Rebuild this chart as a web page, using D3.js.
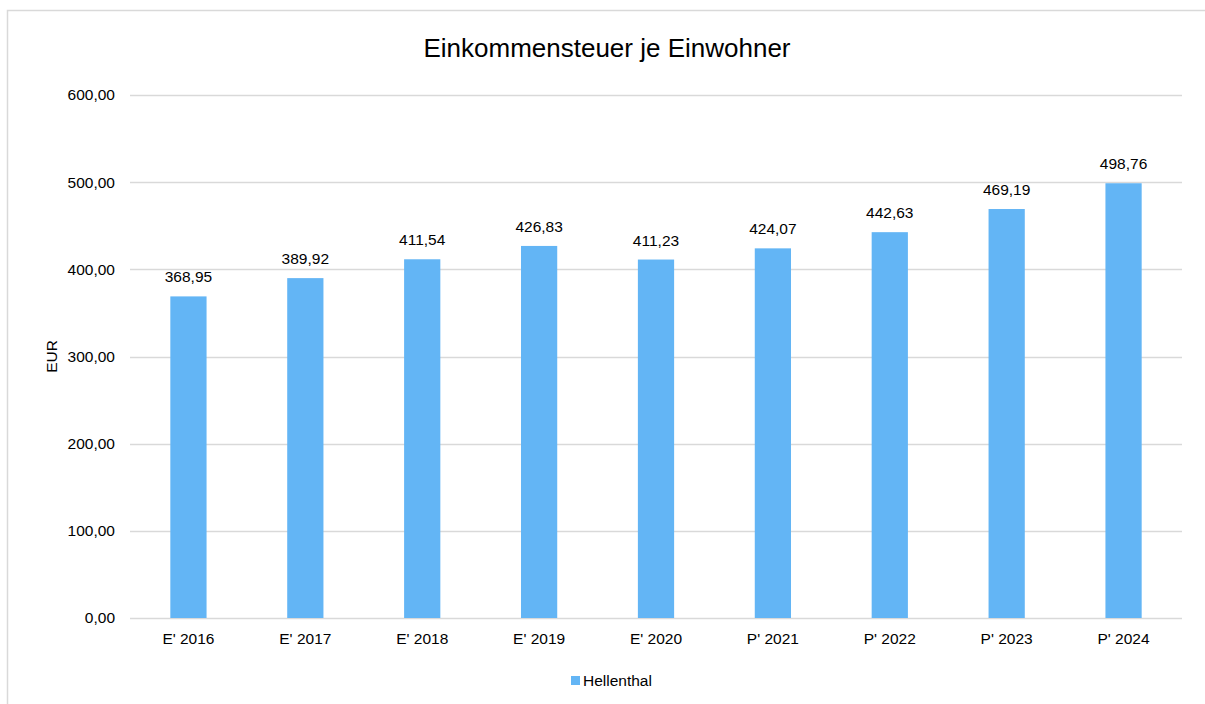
<!DOCTYPE html>
<html>
<head>
<meta charset="utf-8">
<script src="https://cdn.jsdelivr.net/npm/d3@7"></script>
<style>
  body { margin: 0; background: #fff; }
  text { font-family: "Liberation Sans", Arial, sans-serif; fill: #000; }
</style>
</head>
<body>
<div id="chart"></div>
<script>
// data
var categories = ["E' 2016", "E' 2017", "E' 2018", "E' 2019", "E' 2020", "P' 2021", "P' 2022", "P' 2023", "P' 2024"];
var values = [368.95, 389.92, 411.54, 426.83, 411.23, 424.07, 442.63, 469.19, 498.76];
var yTicks = [0, 100, 200, 300, 400, 500, 600];
var seriesName = "Hellenthal";

var w = 1205, h = 704;
var margin = {left: 130, right: 23, top: 95, bottom: 86};
var fs = "15.5px";

var svg = d3.select("#chart").append("svg")
    .attr("width", w)
    .attr("height", h);

// outer frame (right and bottom edges run off the picture)
svg.append("rect")
    .attr("x", 7.5).attr("y", 10.5)
    .attr("width", 1210).attr("height", 720)
    .attr("fill", "none")
    .attr("stroke", "#d9d9d9")
    .attr("stroke-width", 1.5);

var fmt = function(v) { return d3.format(".2f")(v).replace(".", ","); };

var x = d3.scaleBand()
    .domain(categories)
    .range([margin.left, w - margin.right])
    .paddingInner(0.69)
    .paddingOuter(0.345);

var y = d3.scaleLinear()
    .domain([0, 600])
    .range([h - margin.bottom, margin.top]);

// gridlines
svg.append("g")
    .selectAll("line")
    .data(yTicks)
    .join("line")
    .attr("x1", margin.left).attr("x2", w - margin.right)
    .attr("y1", function(d) { return Math.round(y(d)) + 0.5; })
    .attr("y2", function(d) { return Math.round(y(d)) + 0.5; })
    .attr("stroke", "#d9d9d9")
    .attr("stroke-width", 1.3);

// y tick labels
svg.append("g")
    .selectAll("text")
    .data(yTicks)
    .join("text")
    .attr("x", margin.left - 15)
    .attr("y", function(d) { return y(d); })
    .attr("dy", "0.35em")
    .attr("text-anchor", "end")
    .style("font-size", fs)
    .text(fmt);

// bars
svg.append("g")
    .selectAll("rect")
    .data(values)
    .join("rect")
    .attr("x", function(d, i) { return x(categories[i]); })
    .attr("y", function(d) { return y(d); })
    .attr("width", x.bandwidth())
    .attr("height", function(d) { return y(0) - y(d); })
    .attr("fill", "#63b5f5");

// value labels
svg.append("g")
    .selectAll("text")
    .data(values)
    .join("text")
    .attr("x", function(d, i) { return x(categories[i]) + x.bandwidth() / 2; })
    .attr("y", function(d) { return y(d) - 14; })
    .attr("text-anchor", "middle")
    .style("font-size", fs)
    .text(fmt);

// x tick labels
svg.append("g")
    .selectAll("text")
    .data(categories)
    .join("text")
    .attr("x", function(d) { return x(d) + x.bandwidth() / 2; })
    .attr("y", y(0) + 26)
    .attr("text-anchor", "middle")
    .style("font-size", fs)
    .text(function(d) { return d; });

// axis title
svg.append("text")
    .attr("transform", "translate(57," + ((margin.top + h - margin.bottom) / 2) + ") rotate(-90)")
    .attr("text-anchor", "middle")
    .style("font-size", fs)
    .text("EUR");

// chart title
svg.append("text")
    .attr("x", 607)
    .attr("y", 57)
    .attr("text-anchor", "middle")
    .style("font-size", "26px")
    .text("Einkommensteuer je Einwohner");

// legend
var legend = svg.append("g").attr("transform", "translate(571,676)");
legend.append("rect")
    .attr("width", 9).attr("height", 9)
    .attr("fill", "#63b5f5");
legend.append("text")
    .attr("x", 12).attr("y", 9.5)
    .style("font-size", fs)
    .text(seriesName);
</script>
</body>
</html>
